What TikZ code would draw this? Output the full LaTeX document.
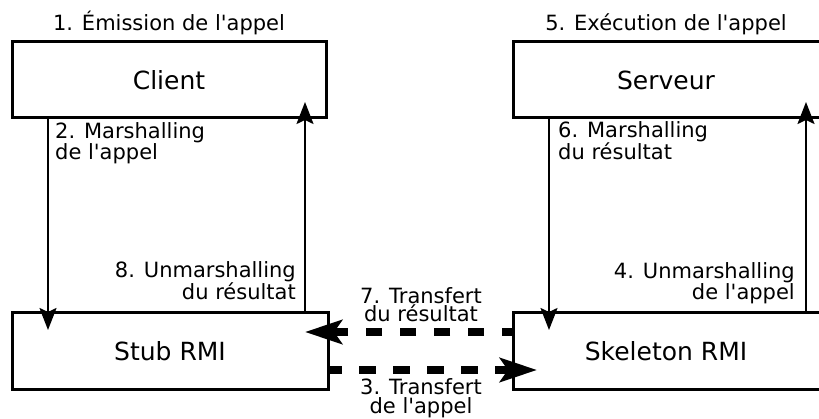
\documentclass[tikz,border=0pt]{standalone}
\usepackage{fontspec}
\setmainfont{DejaVu Sans}
\usetikzlibrary{arrows.meta,calc}
\begin{document}
\begin{tikzpicture}[x=1pt,y=-1pt,
  box/.style={draw, line width=3pt, minimum height=76pt, inner sep=0pt, outer sep=0pt,
    font=\fontsize{25}{30}\selectfont},
  lbl/.style={inner sep=0pt, font=\fontsize{21}{18.5}\selectfont},
  arr/.style={line width=2pt, -{Stealth[length=22pt,width=17pt,inset=4pt]}},
  darr/.style={line width=8pt, -{Stealth[length=37pt,width=24pt,inset=8pt]}}]
\useasboundingbox (0,0) rectangle (819,419);
% boxes
\node[box, minimum width=314pt] (client) at (169,80) {Client};
\node[box, minimum width=316pt] (stub) at (170,351) {Stub RMI};
\node[box, minimum width=320pt, anchor=west] (serveur) at (513,80) {\hspace*{-14pt}Serveur};
\node[box, minimum width=320pt, anchor=west] (skeleton) at (513,351) {\hspace*{-14pt}Skeleton RMI};
% top labels
\node[lbl, anchor=base] (l1) at (169,31) {1. Émission de l\textquotesingle appel};
\node[lbl, anchor=base] (l5) at (666,31) {5. Exécution de l\textquotesingle appel};
% side labels (anchor base = last line baseline)
\node[lbl, anchor=base west, align=left] (l2) at (55,160) {2. Marshalling\\de l\textquotesingle appel};
\node[lbl, anchor=base west, align=left] (l6) at (558,160) {6. Marshalling\\du résultat};
\node[lbl, anchor=base east, align=right] (l8) at (296,300) {8. Unmarshalling\\du résultat};
\node[lbl, anchor=base east, align=right] (l4) at (795,300) {4. Unmarshalling\\de l\textquotesingle appel};
\node[lbl, anchor=base, align=center] (l7) at (421,322) {7. Transfert\\du résultat};
\node[lbl, anchor=base, align=center] (l3) at (421,413) {3. Transfert\\de l\textquotesingle appel};
% vertical arrows
\draw[arr, shorten >=-17pt] ($(client.south west)+(36,0)$) -- ($(stub.north west)+(36,0)$);
\draw[arr, shorten >=-16pt] ($(stub.north west)+(293,0)$) -- ($(client.south west)+(293,0)$);
\draw[arr, shorten >=-17pt] ($(serveur.south west)+(36,0)$) -- ($(skeleton.north west)+(36,0)$);
\draw[arr, shorten >=-16pt] ($(skeleton.north west)+(293,0)$) -- ($(serveur.south west)+(293,0)$);
% dashed transfers
\draw[darr, dash pattern=on 16pt off 18pt, dash phase=5pt, shorten >=-23pt]
  ($(skeleton.north west)+(0,19)$) -- ($(stub.north east)+(0,19)$);
\draw[darr, dash pattern=on 17pt off 17pt, dash phase=3pt, shorten >=-24pt]
  ($(stub.north east)+(0,57)$) -- ($(skeleton.north west)+(0,57)$);
\end{tikzpicture}
\end{document}
